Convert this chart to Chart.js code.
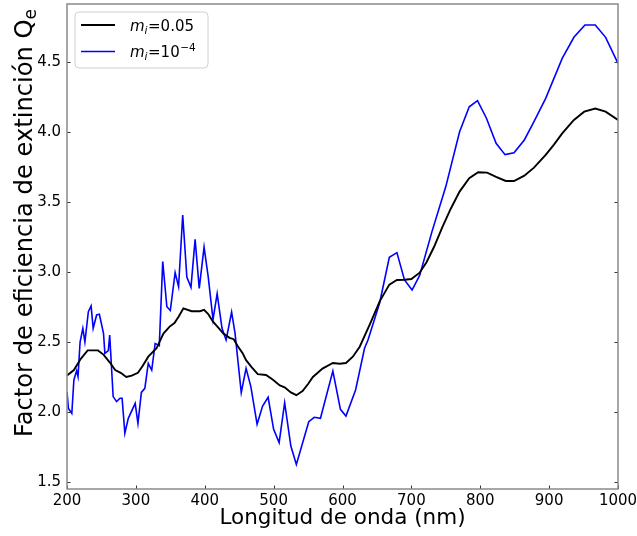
<!DOCTYPE html>
<html>
<head>
<meta charset="utf-8">
<script src="https://cdn.jsdelivr.net/npm/chart.js@4.4.1/dist/chart.umd.min.js"></script>
<style>
  html, body { margin: 0; padding: 0; background: #ffffff; }
  canvas { display: block; }
</style>
</head>
<body>
<canvas id="chart" width="637" height="536"></canvas>
<script>
// Extinction efficiency Q_e versus wavelength for two imaginary indices m_i.
const wavelengthA = [200, 210, 220, 230, 245, 253, 262, 270, 278, 286, 294, 303, 310, 318, 330, 340, 349, 356, 362, 369, 381, 393, 399, 405, 412, 420, 427, 436, 442, 448, 455, 460, 468, 477, 489, 499, 509, 516, 525, 533, 542, 550, 557, 571, 586, 596, 605, 615, 625, 640, 654, 668, 679, 690, 700, 712, 722, 733, 745, 757, 770, 784, 797, 810, 823, 837, 849, 864, 878, 895, 907, 919, 936, 951, 967, 982, 1000];
const qeA = [2.26, 2.30, 2.38, 2.44, 2.44, 2.41, 2.355, 2.30, 2.28, 2.25, 2.26, 2.28, 2.33, 2.395, 2.455, 2.56, 2.61, 2.635, 2.68, 2.74, 2.72, 2.72, 2.73, 2.70, 2.645, 2.60, 2.56, 2.53, 2.52, 2.47, 2.42, 2.37, 2.32, 2.27, 2.264, 2.23, 2.19, 2.176, 2.14, 2.12, 2.15, 2.20, 2.25, 2.31, 2.35, 2.345, 2.35, 2.395, 2.466, 2.63, 2.79, 2.91, 2.943, 2.945, 2.95, 2.995, 3.07, 3.18, 3.32, 3.45, 3.574, 3.669, 3.712, 3.71, 3.68, 3.65, 3.65, 3.688, 3.745, 3.836, 3.91, 3.99, 4.086, 4.145, 4.167, 4.145, 4.086];

const wavelengthB = [200, 202, 207, 210, 214, 216, 219, 223, 226, 231, 235, 238, 243, 247, 253, 255, 260, 262, 267, 272, 277, 280, 284, 289, 299, 303, 308, 313, 318, 323, 328, 334, 339, 345, 350, 357, 362, 368, 374, 380, 386, 392, 399, 405, 412, 418, 425, 431, 439, 444, 453, 460, 467, 476, 484, 492, 500, 508, 516, 525, 533, 551, 559, 568, 586, 597, 605, 619, 632, 637, 654, 668, 679, 690, 701, 712, 730, 750, 770, 784, 796, 809, 823, 836, 849, 864, 878, 895, 919, 936, 952, 967, 982, 1000];
const qeB = [2.145, 2.026, 1.99, 2.229, 2.295, 2.252, 2.50, 2.598, 2.50, 2.717, 2.757, 2.598, 2.693, 2.698, 2.562, 2.419, 2.438, 2.55, 2.11, 2.074, 2.098, 2.098, 1.848, 1.955, 2.062, 1.919, 2.14, 2.169, 2.348, 2.30, 2.49, 2.474, 3.074, 2.752, 2.725, 2.995, 2.895, 3.407, 2.963, 2.89, 3.233, 2.883, 3.178, 2.967, 2.66, 2.845, 2.60, 2.514, 2.714, 2.562, 2.138, 2.312, 2.18, 1.912, 2.043, 2.105, 1.876, 1.781, 2.066, 1.757, 1.626, 1.931, 1.962, 1.955, 2.293, 2.019, 1.971, 2.157, 2.455, 2.514, 2.78, 3.105, 3.138, 2.943, 2.871, 2.975, 3.29, 3.61, 4.002, 4.18, 4.224, 4.098, 3.919, 3.838, 3.852, 3.943, 4.074, 4.24, 4.526, 4.676, 4.764, 4.764, 4.676, 4.49];

const xTicks = [200, 300, 400, 500, 600, 700, 800, 900, 1000];
const yTicks = [1.5, 2.0, 2.5, 3.0, 3.5, 4.0, 4.5];

const FONT = '"DejaVu Sans", "Liberation Sans", sans-serif';

function toPoints(xs, ys) {
  return xs.map((x, i) => ({ x: x, y: ys[i] }));
}

// Frame, inward tick marks, legend with sub/superscripts and the y title.
const decorations = {
  id: 'decorations',
  afterDraw(chart) {
    const ctx = chart.ctx;
    const area = chart.chartArea;
    const xs = chart.scales.x;
    const ys = chart.scales.y;
    ctx.save();

    // tick marks pointing into the plot
    ctx.strokeStyle = '#333333';
    ctx.lineWidth = 1;
    const tl = 3.5;
    yTicks.forEach(v => {
      const py = Math.round(ys.getPixelForValue(v)) + 0.5;
      ctx.beginPath();
      ctx.moveTo(area.left, py); ctx.lineTo(area.left + tl, py);
      ctx.moveTo(area.right, py); ctx.lineTo(area.right - tl, py);
      ctx.stroke();
    });
    xTicks.forEach(v => {
      const px = Math.round(xs.getPixelForValue(v)) + 0.5;
      ctx.beginPath();
      ctx.moveTo(px, area.bottom); ctx.lineTo(px, area.bottom - tl);
      ctx.stroke();
    });

    // frame
    ctx.strokeStyle = '#8a8a8a';
    ctx.lineWidth = 1.5;
    ctx.strokeRect(area.left, area.top, area.right - area.left, area.bottom - area.top);

    // legend box
    const bx = 75, by = 12, bw = 133, bh = 56, r = 4;
    ctx.beginPath();
    ctx.moveTo(bx + r, by);
    ctx.lineTo(bx + bw - r, by);
    ctx.arcTo(bx + bw, by, bx + bw, by + r, r);
    ctx.lineTo(bx + bw, by + bh - r);
    ctx.arcTo(bx + bw, by + bh, bx + bw - r, by + bh, r);
    ctx.lineTo(bx + r, by + bh);
    ctx.arcTo(bx, by + bh, bx, by + bh - r, r);
    ctx.lineTo(bx, by + r);
    ctx.arcTo(bx, by, bx + r, by, r);
    ctx.closePath();
    ctx.fillStyle = 'rgba(255,255,255,0.85)';
    ctx.fill();
    ctx.strokeStyle = '#d0d0d0';
    ctx.lineWidth = 1;
    ctx.stroke();

    const rows = [
      { y: 25, color: '#000000', width: 1.9, value: '0.05', sup: null },
      { y: 51.5, color: '#0000ff', width: 1.6, value: '10', sup: '\u22124' }
    ];
    rows.forEach(row => {
      ctx.strokeStyle = row.color;
      ctx.lineWidth = row.width;
      ctx.beginPath();
      ctx.moveTo(81, row.y); ctx.lineTo(115, row.y);
      ctx.stroke();

      const base = row.y + 5.5;
      let x = 130;
      ctx.fillStyle = '#000000';
      ctx.textBaseline = 'alphabetic';
      ctx.textAlign = 'left';
      ctx.font = 'italic 15px ' + FONT;
      ctx.fillText('m', x, base);
      x += ctx.measureText('m').width;
      ctx.font = 'italic 10.5px ' + FONT;
      ctx.fillText('i', x, base + 3);
      x += ctx.measureText('i').width + 0.5;
      ctx.font = '15px ' + FONT;
      const t = '=' + row.value;
      ctx.fillText(t, x, base);
      x += ctx.measureText(t).width;
      if (row.sup) {
        ctx.font = '10.5px ' + FONT;
        ctx.fillText(row.sup, x + 0.5, base - 6.5);
      }
    });

    // rotated y-axis title with subscript, reading upward from y = 437
    const main = 'Factor de eficiencia de extinci\u00f3n Q';
    ctx.translate(31.7, 437);
    ctx.rotate(-Math.PI / 2);
    ctx.fillStyle = '#000000';
    ctx.textAlign = 'left';
    ctx.textBaseline = 'alphabetic';
    ctx.font = '24.2px ' + FONT;
    ctx.fillText(main, 0, 0);
    const wMain = ctx.measureText(main).width;
    ctx.font = '17px ' + FONT;
    ctx.fillText('e', wMain, 4.5);

    ctx.restore();
  }
};

new Chart(document.getElementById('chart'), {
  type: 'line',
  data: {
    datasets: [
      {
        label: 'm_i=0.05',
        data: toPoints(wavelengthA, qeA),
        borderColor: '#000000',
        borderWidth: 1.9,
        pointRadius: 0,
        tension: 0,
        fill: false
      },
      {
        label: 'm_i=10^-4',
        data: toPoints(wavelengthB, qeB),
        borderColor: '#0000ff',
        borderWidth: 1.6,
        pointRadius: 0,
        tension: 0,
        fill: false
      }
    ]
  },
  options: {
    responsive: false,
    animation: false,
    devicePixelRatio: 1,
    layout: { padding: { top: 4, right: 19, left: 0, bottom: 0 } },
    plugins: {
      legend: { display: false },
      tooltip: { enabled: false }
    },
    scales: {
      x: {
        type: 'linear',
        min: 200,
        max: 1000,
        afterBuildTicks: s => { s.ticks = xTicks.map(v => ({ value: v })); },
        afterFit: s => { s.height = 47; s.paddingLeft = 0; s.paddingRight = 0; },
        grid: { display: false, drawTicks: false },
        border: { display: false },
        ticks: {
          color: '#000000',
          font: { family: FONT, size: 15 },
          padding: 3,
          maxRotation: 0,
          autoSkip: false,
          callback: v => String(v)
        },
        title: {
          display: true,
          text: 'Longitud de onda (nm)',
          color: '#000000',
          font: { family: FONT, size: 21.5 },
          padding: { top: 0, bottom: 5 }
        }
      },
      y: {
        type: 'linear',
        min: 1.45,
        max: 4.914,
        afterBuildTicks: s => { s.ticks = yTicks.map(v => ({ value: v })); },
        afterFit: s => { s.width = 67; s.paddingTop = 0; s.paddingBottom = 0; },
        grid: { display: false, drawTicks: false },
        border: { display: false },
        ticks: {
          color: '#000000',
          font: { family: FONT, size: 15 },
          padding: 6,
          autoSkip: false,
          callback: v => Number(v).toFixed(1)
        }
      }
    }
  },
  plugins: [decorations]
});
</script>
</body>
</html>
